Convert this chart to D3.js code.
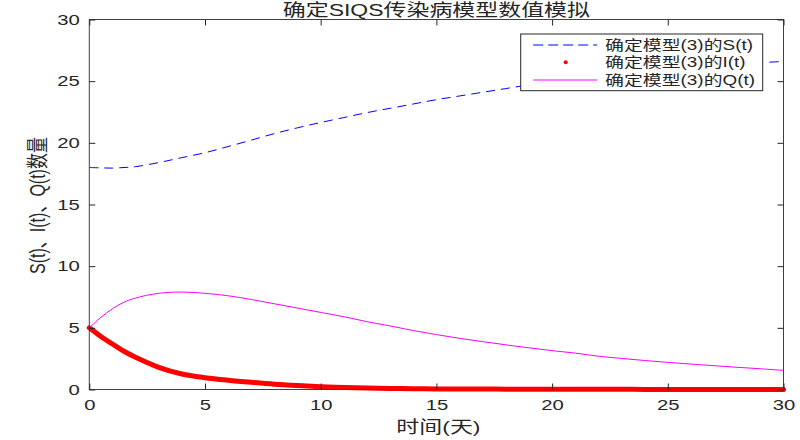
<!DOCTYPE html>
<html>
<head>
<meta charset="utf-8">
<script src="https://cdn.jsdelivr.net/npm/d3@7"></script>
<style>
  body { margin: 0; background: #fff; }
  text { font-family: "Liberation Sans", "Noto Sans CJK SC", sans-serif; fill: #262626; }
</style>
</head>
<body>
<div class="chart"></div>
<script>
// time points (days)
const tDays = [0, 0.5, 1, 1.5, 2, 3, 4, 5, 6, 7, 8, 9, 10, 11, 12, 13, 14, 15,
  16, 17, 18, 19, 20, 21, 22, 23, 24, 25, 26, 27, 28, 29, 30];
// S(t)
const sVals = [18.0, 17.97, 17.95, 18.0, 18.07, 18.4, 18.8, 19.2, 19.7, 20.22, 20.75, 21.22, 21.65,
  22.05, 22.45, 22.8, 23.15, 23.5, 23.8, 24.1, 24.4, 24.7, 24.95, 25.2, 25.45, 25.65,
  25.85, 26.0, 26.15, 26.3, 26.4, 26.5, 26.6];
// I(t)
const iVals = [5.0, 4.3, 3.69, 3.1, 2.61, 1.8, 1.26, 0.96, 0.75, 0.58, 0.43, 0.32, 0.23,
  0.17, 0.12, 0.09, 0.07, 0.05, 0.04, 0.04, 0.03, 0.03, 0.02, 0.02, 0.02, 0.02,
  0.01, 0.01, 0.01, 0.01, 0.01, 0.01, 0.01];
// Q(t)
const qVals = [5.0, 5.85, 6.55, 7.08, 7.42, 7.8, 7.9, 7.8, 7.6, 7.3, 6.95, 6.6, 6.25,
  5.9, 5.5, 5.15, 4.78, 4.45, 4.15, 3.88, 3.62, 3.38, 3.15, 2.95, 2.7, 2.52,
  2.35, 2.2, 2.06, 1.93, 1.8, 1.68, 1.55];

const xTicks = [0, 5, 10, 15, 20, 25, 30];
const yTicks = [0, 5, 10, 15, 20, 25, 30];
const titleText = "确定SIQS传染病模型数值模拟";
const xLabel = "时间(天)";
const yLabel = "S(t)、I(t)、Q(t)数量";
const legendLabels = ["确定模型(3)的S(t)", "确定模型(3)的I(t)", "确定模型(3)的Q(t)"];

const W = 800, H = 440;
const margin = { top: 19.5, left: 89.3, right: 16.5, bottom: 50.5 };
const iw = W - margin.left - margin.right, ih = H - margin.top - margin.bottom;
const stretch = 1.35; // wide glyphs as in the picture

const svg = d3.select(".chart").append("svg")
  .attr("width", W).attr("height", H);

const x = d3.scaleLinear().domain([0, 30]).range([0, iw]);
const y = d3.scaleLinear().domain([0, 30]).range([ih, 0]);

const g = svg.append("g").attr("transform", `translate(${margin.left},${margin.top})`);

const line = vals => d3.line()
  .x((d, i) => x(tDays[i]))
  .y(d => y(d))
  .curve(d3.curveCatmullRom.alpha(0.5))(vals);

// S dashed blue
g.append("path").attr("d", line(sVals))
  .attr("fill", "none").attr("stroke", "#0000ff").attr("stroke-width", 1)
  .attr("stroke-dasharray", "9,6");
// I thick red (dense dot markers)
g.append("path").attr("d", line(iVals))
  .attr("fill", "none").attr("stroke", "#ff0000").attr("stroke-width", 5)
  .attr("stroke-linecap", "round");
// Q magenta
g.append("path").attr("d", line(qVals))
  .attr("fill", "none").attr("stroke", "#ff00ff").attr("stroke-width", 1);

// axes box
g.append("rect").attr("width", iw).attr("height", ih)
  .attr("fill", "none").attr("stroke", "#404040").attr("stroke-width", 1);

const styleAxis = sel => {
  sel.select(".domain").remove();
  sel.selectAll("line").attr("stroke", "#262626");
};

const bottom = g.append("g").attr("transform", `translate(0,${ih})`)
  .call(d3.axisBottom(x).tickValues(xTicks).tickSizeInner(-6).tickSizeOuter(0).tickPadding(10))
  .call(styleAxis);
g.append("g")
  .call(d3.axisTop(x).tickValues(xTicks).tickSizeInner(-6).tickSizeOuter(0).tickFormat(""))
  .call(styleAxis);
const left = g.append("g")
  .call(d3.axisLeft(y).tickValues(yTicks).tickSizeInner(-6).tickSizeOuter(0).tickPadding(7))
  .call(styleAxis);
g.append("g").attr("transform", `translate(${iw},0)`)
  .call(d3.axisRight(y).tickValues(yTicks).tickSizeInner(-6).tickSizeOuter(0).tickFormat(""))
  .call(styleAxis);

[bottom, left].forEach(a => a.selectAll("text")
  .attr("font-size", 15).attr("font-family", null).attr("fill", "#262626")
  .attr("transform", `scale(${stretch},1)`));

// title
svg.append("text")
  .attr("transform", `translate(${margin.left + iw / 2},16) scale(${stretch},1)`)
  .attr("text-anchor", "middle").attr("font-size", 17)
  .text(titleText);

// x label
svg.append("text")
  .attr("transform", `translate(${margin.left + iw / 2 + 2},433) scale(${stretch},1)`)
  .attr("text-anchor", "middle").attr("font-size", 17)
  .text(xLabel);

// y label
svg.append("text")
  .attr("transform", `translate(38,${margin.top + ih / 2 + 1}) scale(${stretch},1) rotate(-90)`)
  .attr("text-anchor", "middle").attr("dominant-baseline", "central").attr("font-size", 16)
  .text(yLabel);

// legend
const lg = svg.append("g").attr("transform", "translate(520.7,34)");
lg.append("rect").attr("width", 242).attr("height", 56.7)
  .attr("fill", "#fff").attr("stroke", "#262626").attr("stroke-width", 1);
const rowY = [11, 28.3, 46];
lg.append("line").attr("x1", 12.5).attr("x2", 76.5).attr("y1", rowY[0]).attr("y2", rowY[0])
  .attr("stroke", "#0000ff").attr("stroke-dasharray", "10,5");
lg.append("circle").attr("cx", 45).attr("cy", rowY[1]).attr("r", 2).attr("fill", "#ff0000");
lg.append("line").attr("x1", 12.5).attr("x2", 76.5).attr("y1", rowY[2]).attr("y2", rowY[2])
  .attr("stroke", "#ff00ff");
legendLabels.forEach((lab, i) => {
  lg.append("text")
    .attr("transform", `translate(84.3,${rowY[i] + 5}) scale(${stretch},1)`)
    .attr("font-size", 14)
    .text(lab);
});
</script>
</body>
</html>
